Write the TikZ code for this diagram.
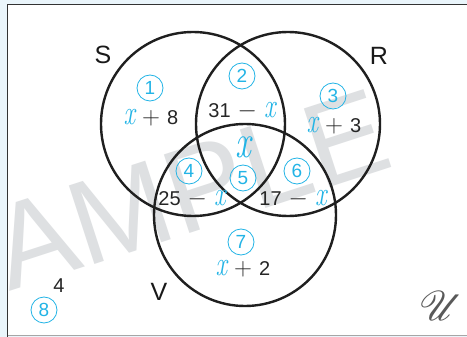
\documentclass[tikz,border=0pt]{standalone}
\usepackage{fontspec}
\newfontfamily\lsans{Liberation Sans}
\usepackage{mathrsfs}
\usepackage{graphicx}
\definecolor{cy}{RGB}{35,180,230}
\definecolor{wm}{RGB}{222,224,226}
\definecolor{pale}{RGB}{234,245,251}
\newcommand{\vx}{\textcolor{cy}{\rmfamily\itshape\fontsize{30}{30}\selectfont\scalebox{0.85}[1.15]{x}}}
\newcommand{\pl}{\hspace{7pt}\scalebox{1.2}{$+$}\hspace{7pt}}
\newcommand{\mi}{\hspace{7pt}\scalebox{1.2}{$-$}\hspace{7pt}}
\begin{document}
\begin{tikzpicture}[x=1pt,y=-1pt,
  setc/.style={draw=black!88, line width=2.4pt},
  num/.style={circle, draw=cy, line width=0.8pt, text=cy, minimum size=26pt, inner sep=0pt, font=\lsans\fontsize{19}{19}\selectfont},
  val/.style={font=\lsans\fontsize{20}{20}\selectfont, text=black!85, inner sep=0pt},
  lab/.style={font=\lsans\fontsize{25}{25}\selectfont, text=black!90, inner sep=0pt}]
\useasboundingbox (0,0) rectangle (467,337);
\fill[pale] (0,0) rectangle (467,337);
\fill[white] (7.5,4.5) rectangle (467,335.5);
\draw[black!80, line width=1.4pt] (7.5,337) -- (7.5,4.5) -- (467,4.5);
\draw[black!35, line width=1pt] (7.5,335.5) -- (467,335.5);
\begin{scope}
\clip (7.5,4.5) rectangle (467,335.5);
\node[text=wm, rotate=18, font=\lsans\fontsize{120}{120}\selectfont, inner sep=0pt] (wmark) at (152,202) {SAMPLE};
\end{scope}
\node[setc, circle, minimum size=184pt, inner sep=0pt] (S) at (193,124) {};
\node[setc, circle, minimum size=184pt, inner sep=0pt] (R) at (288,124) {};
\node[setc, circle, minimum size=182pt, inner sep=0pt] (V) at (245,215) {};
\node[lab] (lS) at (103,55) {S};
\node[lab] (lR) at (379,56) {R};
\node[lab] (lV) at (159,292) {V};
\node[num] (n1) at (150,88) {1};
\node[val] (v1) at (151,118) {\vx\pl8};
\node[num] (n2) at (242,76) {2};
\node[val] (v2) at (242,111) {31\mi\vx};
\node[num] (n3) at (333,96) {3};
\node[val] (v3) at (334,126) {\vx\pl3};
\node[val] (v5) at (243,147) {\textcolor{cy}{\rmfamily\itshape\fontsize{41}{41}\selectfont\scalebox{0.85}[1.15]{x}}};
\node[num] (n4) at (189,171) {4};
\node[num] (n5) at (243,178) {5};
\node[num] (n6) at (297,171) {6};
\node[val] (v4) at (192,199) {25\mi\vx};
\node[val] (v6) at (293,199) {17\mi\vx};
\node[num] (n7) at (241,242) {7};
\node[val] (v7) at (243,269) {\vx\pl2};
\node[val] (v8) at (59,286) {4};
\node[num] (n8) at (44,310) {8};
\node[text=black!65, inner sep=0pt, font=\fontsize{20}{20}\selectfont] (U) at (441,306) {\scalebox{2.0}{$\mathscr{U}$}};
\end{tikzpicture}
\end{document}
